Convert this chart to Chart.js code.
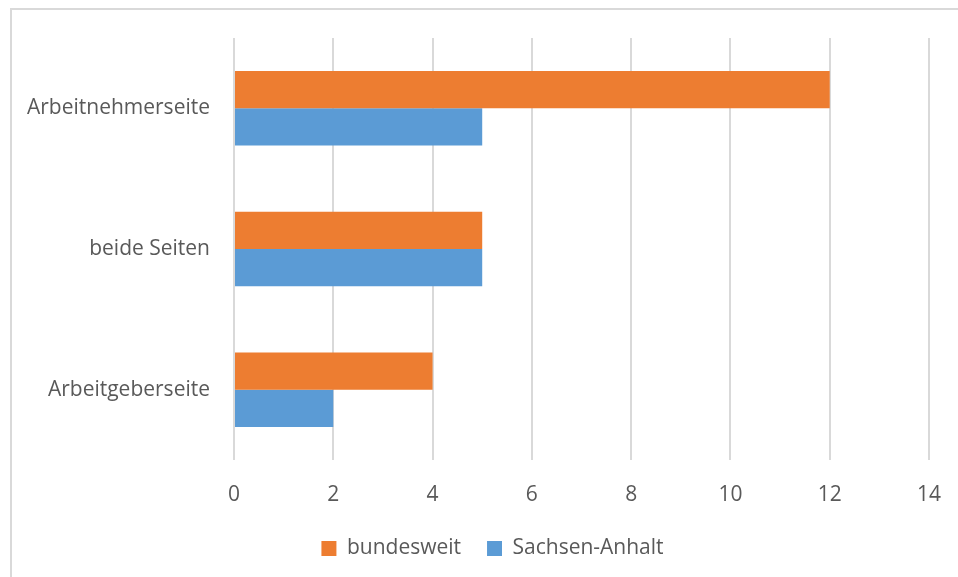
<!DOCTYPE html>
<html>
<head>
<meta charset="utf-8">
<script src="https://cdn.jsdelivr.net/npm/chart.js@4"></script>
<style>
  html, body { margin: 0; padding: 0; background: #fff; }
  #wrap { position: relative; width: 958px; height: 577px; }
  #frame { position: absolute; left: 10px; top: 8px; right: 0; bottom: 0;
           border-top: 2px solid #d9d9d9; border-left: 2px solid #d9d9d9; }
  canvas { position: absolute; left: 0; top: 0; }
</style>
</head>
<body>
<div id="wrap">
  <div id="frame"></div>
  <canvas id="chart" width="958" height="577"></canvas>
</div>
<script>
const categories = ["Arbeitnehmerseite", "beide Seiten", "Arbeitgeberseite"];
const bundesweit = [12, 5, 4];
const sachsenAnhalt = [5, 5, 2];
const xTicks = [0, 2, 4, 6, 8, 10, 12, 14];

const font = { family: "'Open Sans', 'Liberation Sans', sans-serif", size: 21 };

// move the legend a bit to the right, like in the original
const legendShift = {
  id: "legendShift",
  afterLayout(chart) {
    chart.legend.left += 23;
    chart.legend.right += 23;
  }
};

window.onload = () => {
  const ctx = document.getElementById("chart").getContext("2d");
  new Chart(ctx, {
    type: "bar",
    data: {
      labels: categories,
      datasets: [
        { label: "bundesweit", data: bundesweit, backgroundColor: "#ed7d31" },
        { label: "Sachsen-Anhalt", data: sachsenAnhalt, backgroundColor: "#5b9bd5" }
      ]
    },
    options: {
      indexAxis: "y",
      responsive: false,
      animation: false,
      categoryPercentage: 0.53,
      barPercentage: 1,
      layout: { padding: { top: 38, right: 29, left: 10, bottom: 8 } },
      scales: {
        x: {
          min: 0,
          max: 14,
          afterBuildTicks: (axis) => { axis.ticks = xTicks.map(v => ({ value: v })); },
          afterFit: (axis) => { axis.height = 52; axis.paddingRight = 0; axis.paddingLeft = 0; },
          grid: { color: "#d9d9d9", lineWidth: 2, drawTicks: false },
          border: { display: false },
          ticks: { color: "#595959", font: font, padding: 22 }
        },
        y: {
          afterFit: (axis) => { axis.width = 224; },
          grid: { display: false },
          border: { display: false },
          ticks: { color: "#595959", font: font, padding: 16 }
        }
      },
      plugins: {
        legend: {
          position: "bottom",
          labels: { color: "#595959", font: font, boxWidth: 15, boxHeight: 15, padding: 26 }
        },
        tooltip: { enabled: false }
      }
    },
    plugins: [legendShift]
  });
};
</script>
</body>
</html>
